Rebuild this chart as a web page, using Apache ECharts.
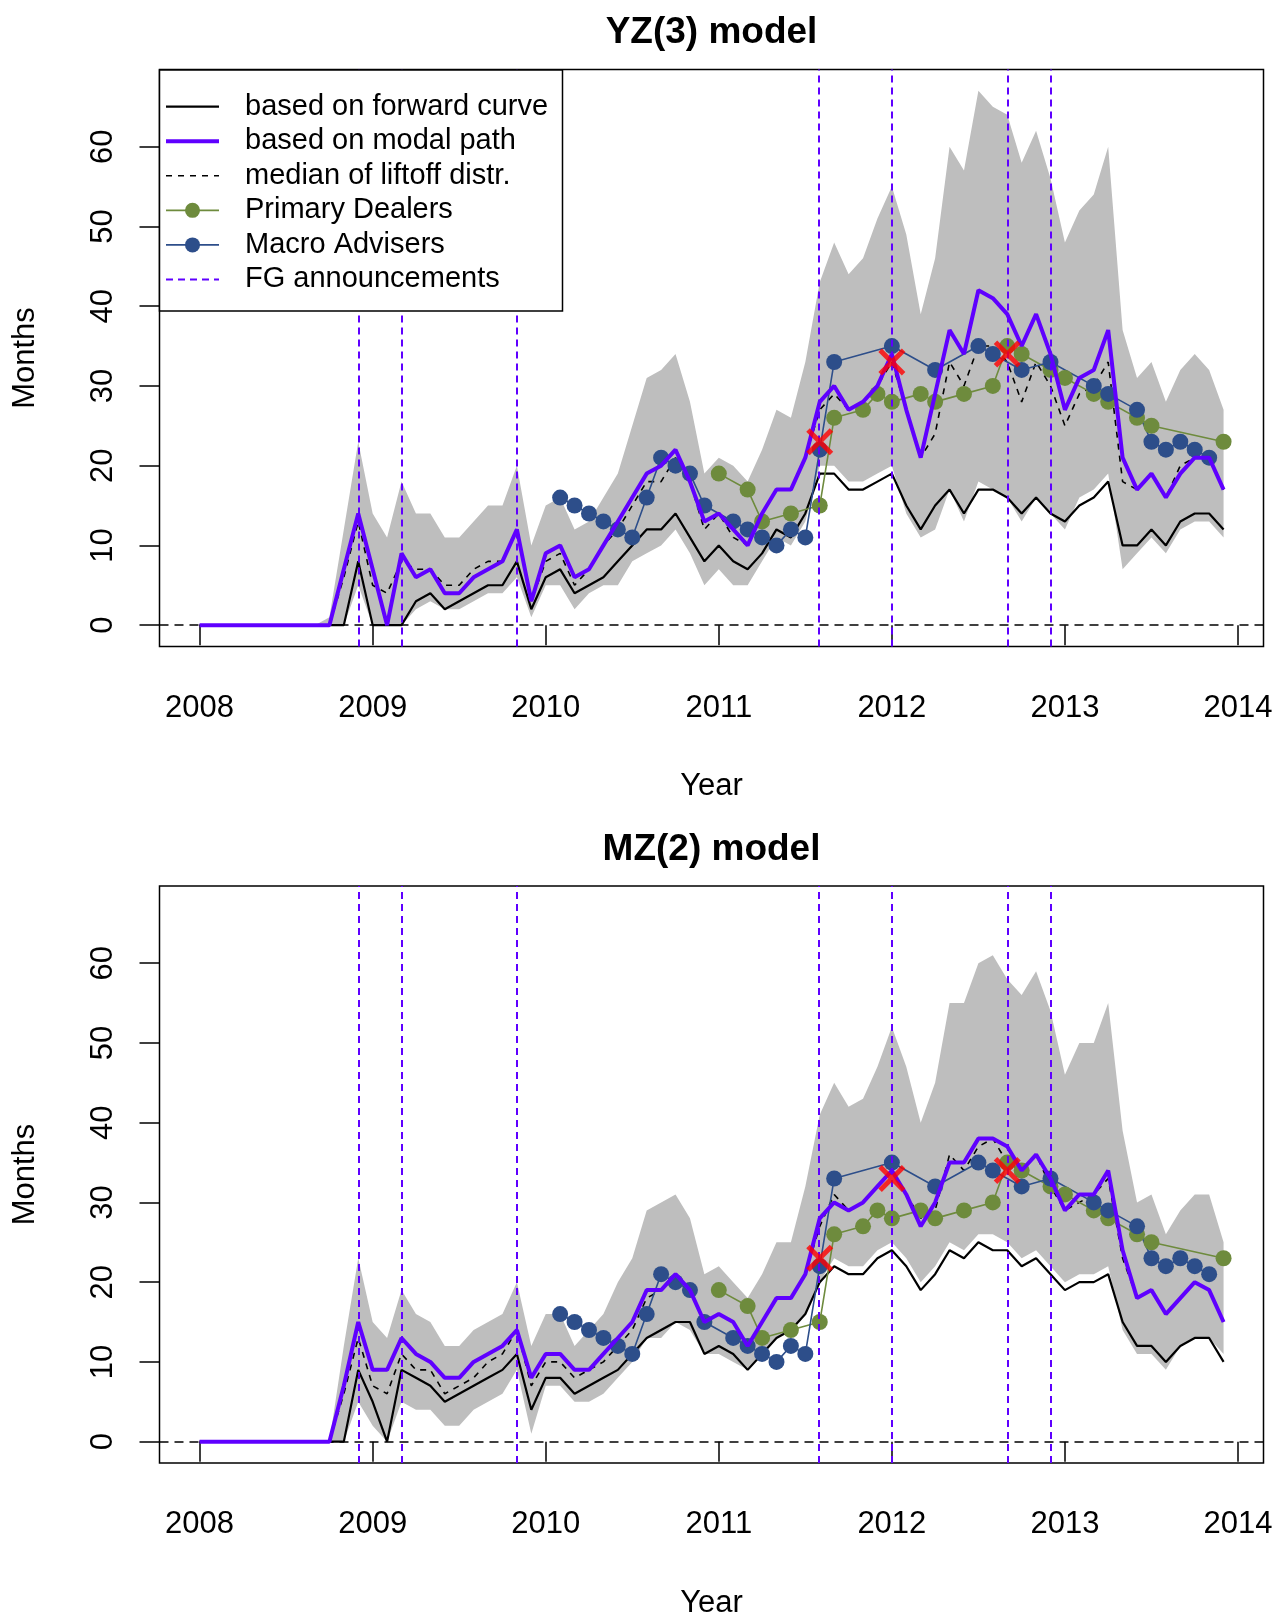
<!DOCTYPE html>
<html>
<head>
<meta charset="utf-8">
<script src="https://cdn.jsdelivr.net/npm/echarts@6/dist/echarts.min.js"></script>
<style>
  html, body { margin: 0; padding: 0; background: #fff; }
  #chart { width: 1278px; height: 1613px; }
</style>
</head>
<body>
<div id="chart"></div>
<script>
// ---- axis ticks ----
const YEAR_TICKS = [2008, 2009, 2010, 2011, 2012, 2013, 2014];
const MONTH_TICKS = [0, 10, 20, 30, 40, 50, 60];

// monthly observation dates, Jan 2008 .. Dec 2013 (decimal years)
const months = [];
for (let y = 2008; y <= 2013; y++) for (let m = 0; m < 12; m++) months.push(y + m / 12);
const ym = s => { const [y, m] = s.split('-').map(Number); return y + (m - 1) / 12; };

// ---- YZ(3) model: expected months to liftoff ----
const yzForward = [0,0,0,0,0,0,0,0,0, 0,0,8,0,0,0,3,4,2,3,4,5,5,8,2,6,7,4, 5,6,8,10,12,12,14,11,8,10,8,7,9,12,11,14,19, 19,17,17,18,19,15,12,15,17,14,17,17,16,14,16,14, 13,15,16,18,10,10,12,10,13,14,14,12];
const yzModal   = [0,0,0,0,0,0,0,0,0, 0,7,14,7,0,9,6,7,4,4,6,7,8,12,3,9,10,6, 7,10,13,16,19,20,22,18,13,14,12,10,14,17,17,21,28, 30,27,28,30,34,27,21,29,37,34,42,41,39,35,39,34, 27,31,32,37,21,17,19,16,19,21,21,17];
const yzMedian  = [0,0,0,0,0,0,0,0,0, 0,6,13,5,4,8,7,7,5,5,7,8,8,12,3,8,9,5, 7,10,12,15,18,18,21,18,12,14,11,10,14,17,17,21,27, 29,27,28,30,33,27,21,24,33,30,35,35,33,28,33,30, 25,29,30,33,18,17,19,16,20,21,21,17];
const yzUpper   = [0,0,0,0,0,0,0,0,0, 1,12,23,14,11,18,14,14,11,11,13,15,15,20,10,15,16,12, 13,16,19,25,31,32,34,28,19,21,20,18,22,27,26,33,43, 48,44,46,51,55,49,39,46,60,57,67,65,64,58,62,56, 48,52,54,60,37,31,33,28,32,34,32,27];
const yzLower   = [0,0,0,0,0,0,0,0,0, 0,0,5,0,0,0,2,3,2,2,3,4,4,6,1,5,5,2, 4,5,5,8,9,10,12,9,5,7,5,5,8,11,10,13,20, 20,18,18,19,20,14,11,12,17,13,18,17,16,13,16,14, 12,16,17,19,7,9,11,9,12,13,13,11];

// ---- MZ(2) model ----
const mzForward = [0,0,0,0,0,0,0,0,0, 0,0,9,5,0,9,8,7,5,6,7,8,9,11,4,8,8,6, 7,8,9,11,13,14,15,15,11,12,11,9,11,13,14,16,20, 22,21,21,23,24,22,19,21,24,23,25,24,24,22,23,21, 19,20,20,21,15,12,12,10,12,13,13,10];
const mzModal   = [0,0,0,0,0,0,0,0,0, 0,7,15,9,9,13,11,10,8,8,10,11,12,14,8,11,11,9, 9,11,13,15,19,19,21,19,15,16,15,12,15,18,18,21,28, 30,29,30,32,34,31,27,30,35,35,38,38,37,34,36,33, 29,31,31,34,24,18,19,16,18,20,19,15];
const mzMedian  = [0,0,0,0,0,0,0,0,0, 0,6,13,7,6,11,9,9,6,7,8,10,11,14,7,10,10,8, 9,10,12,14,18,19,21,19,15,16,15,12,15,18,18,21,27, 31,29,30,32,34,31,28,29,36,34,37,38,35,34,36,32, 29,30,31,33,23,18,19,16,18,20,19,15];
const mzUpper   = [0,0,0,0,0,0,0,0,0, 0,12,23,15,13,19,16,15,12,12,14,15,16,20,12,16,16,12, 14,16,20,23,29,30,31,28,21,22,20,18,21,25,25,32,41, 45,42,43,47,52,47,40,45,55,55,60,61,58,56,59,54, 46,50,50,55,39,30,31,26,29,31,31,25];
const mzLower   = [0,0,0,0,0,0,0,0,0, 0,0,5,2,0,5,4,4,2,2,4,5,6,9,1,7,7,5, 5,6,8,10,13,13,15,14,11,11,10,9,11,13,14,16,20, 23,22,22,24,25,23,20,22,25,24,26,26,25,23,24,22, 20,21,21,22,14,11,11,9,12,13,13,11];

// ---- survey expectations ----
const dealerDates = ['2011-01','2011-03','2011-04','2011-06','2011-08','2011-09','2011-11','2011-12','2012-01','2012-03','2012-04','2012-06','2012-08','2012-09','2012-10','2012-12','2013-01','2013-03','2013-04','2013-06','2013-07','2013-12'];
const dealerValues = [19,17,13,14,15,26,27,29,28,29,28,29,30,35,34,32,31,29,28,26,25,23];
const adviserDates = ['2010-02','2010-03','2010-04','2010-05','2010-06','2010-07','2010-08','2010-09','2010-10','2010-11','2010-12','2011-02','2011-03','2011-04','2011-05','2011-06','2011-07','2011-08','2011-09','2012-01','2012-04','2012-07','2012-08','2012-10','2012-12','2013-03','2013-04','2013-06','2013-07','2013-08','2013-09','2013-10','2013-11'];
const adviserValues = [16,15,14,13,12,11,16,21,20,19,15,13,12,11,10,12,11,22,33,35,32,35,34,32,33,30,29,27,23,22,23,22,21];

// ---- forward guidance announcements ----
const fgDates = ['2008-12','2009-03','2009-11','2011-08','2012-01','2012-09','2012-12'];
const crossDates = ['2011-08','2012-01','2012-09'];
const crossValues = [23, 33, 34];

const FONT = '"Liberation Sans", Arial, Helvetica, sans-serif';
const PURPLE = '#5F00FF';
const GREEN = '#6E8B3D';
const BLUE = '#2D4E8A';
const GREY = '#BEBEBE';
const CROSS = 'path://M0,1.3L1.3,0L5,3.7L8.7,0L10,1.3L6.3,5L10,8.7L8.7,10L5,6.3L1.3,10L0,8.7L3.7,5Z';

const panels = [
  { title: 'YZ(3) model', top: 69.5, fwd: yzForward, modal: yzModal, median: yzMedian, lower: yzLower, upper: yzUpper },
  { title: 'MZ(2) model', top: 886, fwd: mzForward, modal: mzModal, median: mzMedian, lower: mzLower, upper: mzUpper }
];
const PLOT = { left: 159.5, width: 1104, height: 577 };

const pts = arr => months.map((x, i) => [x, arr[i]]);
const pairs = (dates, vals) => dates.map((d, i) => [ym(d), vals[i]]);
const centered = (text, font) => ({ text, font, fill: '#000',
  textAlign: 'center', align: 'center', textVerticalAlign: 'middle', verticalAlign: 'middle' });

const grids = [], xAxes = [], yAxes = [], series = [], graphics = [];

panels.forEach((p, k) => {
  grids.push({ left: PLOT.left, top: p.top, width: PLOT.width, height: PLOT.height,
    show: true, borderColor: '#000', borderWidth: 1.5, backgroundColor: 'transparent' });

  xAxes.push({
    gridIndex: k, type: 'value', min: 2007.7683, max: 2014.1474,
    axisLine: { show: false }, splitLine: { show: false },
    axisTick: { show: true, customValues: YEAR_TICKS, length: 20, lineStyle: { color: '#000', width: 1.5 } },
    axisLabel: { customValues: YEAR_TICKS, formatter: v => String(v),
      fontSize: 31, fontFamily: FONT, color: '#000', margin: 46 }
  });
  yAxes.push({
    gridIndex: k, type: 'value', min: -2.68, max: 69.68,
    axisLine: { show: false }, splitLine: { show: false },
    axisTick: { show: true, customValues: MONTH_TICKS, length: 20, lineStyle: { color: '#000', width: 1.5 } },
    axisLabel: { customValues: MONTH_TICKS, formatter: v => String(v), rotate: 90,
      fontSize: 31, fontFamily: FONT, color: '#000', margin: 41 }
  });

  const ax = { xAxisIndex: k, yAxisIndex: k, silent: true, animation: false };

  // shaded band between the lower and upper bounds, one polygon in data space
  series.push({ ...ax, type: 'custom', z: 1, clip: true,
    data: months.map((x, i) => [x, p.lower[i], p.upper[i]]),
    encode: { x: 0, y: [1, 2] },
    renderItem: (params, api) => {
      if (params.dataIndex !== 0) return null;
      const top = months.map((x, i) => api.coord([x, p.upper[i]]));
      const bottom = months.map((x, i) => api.coord([x, p.lower[i]])).reverse();
      return { type: 'polygon', shape: { points: top.concat(bottom) }, style: { fill: GREY } };
    } });

  // forward-curve path with the zero reference line
  series.push({ ...ax, type: 'line', name: 'based on forward curve', data: pts(p.fwd), symbol: 'none',
    lineStyle: { color: '#000', width: 2.2 }, z: 3,
    markLine: { silent: true, symbol: 'none', z: 3, animation: false, label: { show: false },
      lineStyle: { color: '#000', width: 1.6, type: [9, 6] }, data: [{ yAxis: 0 }] } });

  series.push({ ...ax, type: 'line', name: 'median of liftoff distr.', data: pts(p.median), symbol: 'none',
    lineStyle: { color: '#000', width: 1.6, type: [6, 6] }, z: 4 });

  series.push({ ...ax, type: 'line', name: 'Primary Dealers', data: pairs(dealerDates, dealerValues),
    symbol: 'circle', symbolSize: 16, showAllSymbol: true,
    itemStyle: { color: GREEN }, lineStyle: { color: GREEN, width: 1.6 }, z: 5 });
  series.push({ ...ax, type: 'line', name: 'Macro Advisers', data: pairs(adviserDates, adviserValues),
    symbol: 'circle', symbolSize: 16, showAllSymbol: true,
    itemStyle: { color: BLUE }, lineStyle: { color: BLUE, width: 1.6 }, z: 5 });

  series.push({ ...ax, type: 'line', name: 'based on modal path', data: pts(p.modal), symbol: 'none',
    lineStyle: { color: PURPLE, width: 4 }, z: 6,
    markLine: { silent: true, symbol: 'none', z: 7, animation: false, label: { show: false },
      lineStyle: { color: PURPLE, width: 2, type: [7, 5] },
      data: fgDates.map(d => ({ xAxis: ym(d) })) } });

  series.push({ ...ax, type: 'scatter', data: pairs(crossDates, crossValues),
    symbol: CROSS, symbolSize: 27, itemStyle: { color: '#FF0000' }, z: 10 });

  // titles and axis names
  graphics.push({ type: 'text', x: 711.5, y: p.top - 36.5, z: 100, style: centered(p.title, 'bold 37px ' + FONT) });
  graphics.push({ type: 'text', x: 711.5, y: p.top + PLOT.height + 140, z: 100, style: centered('Year', '31px ' + FONT) });
  graphics.push({ type: 'text', x: 25, y: p.top + PLOT.height / 2, rotation: Math.PI / 2, z: 100,
    style: centered('Months', '31px ' + FONT) });
});

// ---- legend box in the upper panel ----
const legendItems = [
  { label: 'based on forward curve', stroke: '#000', width: 2.2 },
  { label: 'based on modal path', stroke: PURPLE, width: 4 },
  { label: 'median of liftoff distr.', stroke: '#000', width: 1.6, dash: [6, 6] },
  { label: 'Primary Dealers', stroke: GREEN, width: 1.6, dot: GREEN },
  { label: 'Macro Advisers', stroke: BLUE, width: 1.6, dot: BLUE },
  { label: 'FG announcements', stroke: PURPLE, width: 2, dash: [7, 5] }
];
graphics.push({ type: 'rect', z: 100, shape: { x: 159.5, y: 70, width: 403, height: 241 },
  style: { fill: '#fff', stroke: '#000', lineWidth: 1.5 } });
legendItems.forEach((it, i) => {
  const cy = 106.7 + i * 34.55;
  graphics.push({ type: 'line', z: 101, shape: { x1: 166, y1: cy, x2: 219, y2: cy },
    style: { stroke: it.stroke, lineWidth: it.width, lineDash: it.dash || null } });
  if (it.dot) graphics.push({ type: 'circle', z: 102, shape: { cx: 192.5, cy: cy, r: 7.5 }, style: { fill: it.dot } });
  graphics.push({ type: 'text', z: 102, x: 245, y: cy,
    style: { text: it.label, font: '29px ' + FONT, fill: '#000',
      textAlign: 'left', align: 'left', textVerticalAlign: 'middle', verticalAlign: 'middle' } });
});

const chart = echarts.init(document.getElementById('chart'), null, { renderer: 'canvas' });
chart.setOption({
  animation: false,
  backgroundColor: '#fff',
  grid: grids,
  xAxis: xAxes,
  yAxis: yAxes,
  series: series,
  graphic: { elements: graphics }
});
</script>
</body>
</html>
